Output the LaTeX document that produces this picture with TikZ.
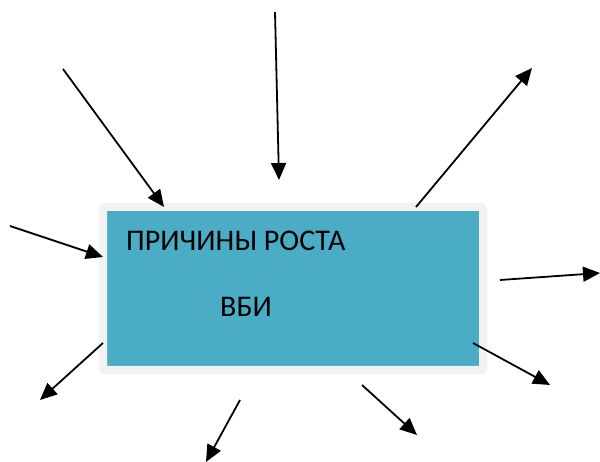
\documentclass[tikz,border=0pt]{standalone}
\usepackage{fontspec}
\setmainfont{Carlito}
\usepackage{tikz}
\usetikzlibrary{positioning,arrows.meta}
\definecolor{AquaFill}{RGB}{75,172,198}
\definecolor{FrameGrey}{RGB}{242,242,242}

\tikzset{
  cause/.style={line width=1.8pt,-{Triangle[length=17pt,width=15pt]}},
  growthbox/.style={fill=AquaFill,draw=FrameGrey,line width=8pt,rounded corners=2pt,
    minimum width=380pt,minimum height=163pt,inner sep=0pt},
  boxtext/.style={anchor=base west,inner sep=0pt,font=\fontsize{30}{34}\selectfont}
}

\begin{document}
\begin{tikzpicture}[x=1pt,y=-1pt]
  \useasboundingbox (0,0) rectangle (600,462);
  \node[growthbox] (box) at (293,288.5) {};
  \node[boxtext] (title) at (126,251) {ПРИЧИНЫ РОСТА};
  \node[boxtext] (abbr) at (220,317) {ВБИ};
  % incoming arrows
  \coordinate (a1) at (63,69);   \coordinate (b1) at (164,207);
  \coordinate (a2) at (275,12);  \coordinate (b2) at (279,180);
  \coordinate (a4) at (10,226);  \coordinate (b4) at (103,257);
  % outgoing arrows
  \coordinate (a3) at (416,207); \coordinate (b3) at (532,68);
  \coordinate (a5) at (500,280); \coordinate (b5) at (600,273);
  \coordinate (a6) at (103,343); \coordinate (b6) at (40,400);
  \coordinate (a7) at (240,400); \coordinate (b7) at (206,462);
  \coordinate (a8) at (362,385); \coordinate (b8) at (417,435);
  \coordinate (a9) at (473,343); \coordinate (b9) at (550,385);
  \foreach \i in {1,...,9}
    \draw[cause] (a\i) -- (b\i);
\end{tikzpicture}
\end{document}
